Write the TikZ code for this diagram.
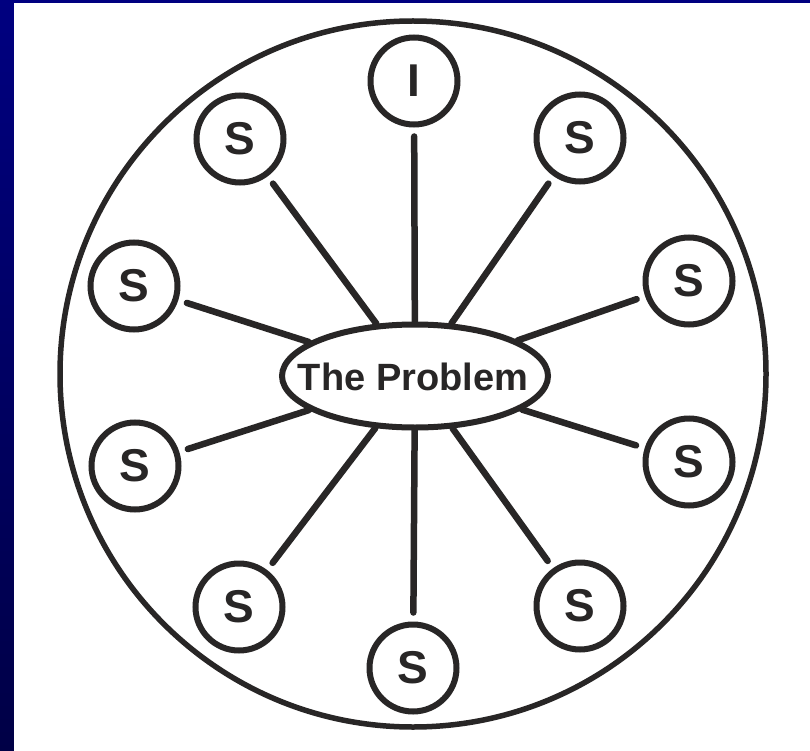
\documentclass[tikz,border=0pt]{standalone}
\usepackage{fontspec}
\setmainfont{Liberation Sans}
\usetikzlibrary{shapes.geometric}
\definecolor{ink}{RGB}{40,38,38}
\definecolor{navytop}{RGB}{0,0,128}
\definecolor{navybot}{RGB}{0,0,70}
\begin{document}
\begin{tikzpicture}[x=1pt,y=-1pt,
  satellite/.style={circle,draw=ink,line width=6pt,minimum size=87pt,inner sep=0pt,
    font=\fontsize{46}{46}\selectfont\bfseries,text=ink},
  problem/.style={ellipse,draw=ink,line width=6pt,minimum width=266pt,minimum height=103pt,
    inner sep=0pt},
  problemtext/.style={inner sep=0pt,font=\fontsize{38}{38}\selectfont\bfseries,text=ink},
  spoke/.style={draw=ink,line width=6.5pt,line cap=round,shorten <=9pt},
  rim/.style={draw=ink,line width=5.5pt}]
\useasboundingbox (0,0) rectangle (810,751);
\shade[top color=navytop,bottom color=navybot] (0,0) rectangle (810,751);
\fill[white] (14,3) rectangle (810,751);
\coordinate (c) at (413,374);
\draw[rim] (c) circle[radius=353pt];
\node[problem] (P) at (415,376) {};
\node[problemtext] (Ptext) at (413,377) {The Problem};
\node[satellite] (i)  at (414,81)   {I};
\node[satellite] (s1) at (240,139)  {S};
\node[satellite] (s2) at (580,138)  {S};
\node[satellite] (s3) at (134,286)  {S};
\node[satellite] (s4) at (689,281)  {S};
\node[satellite] (s5) at (135,466)  {S};
\node[satellite] (s6) at (689,462)  {S};
\node[satellite] (s7) at (239,607)  {S};
\node[satellite] (s8) at (580,606)  {S};
\node[satellite] (s9) at (413,668)  {S};
\foreach \n in {i,s1,s2,s3,s4,s5,s6,s7,s8,s9}
  \draw[spoke] (\n) -- (P);
\end{tikzpicture}
\end{document}
